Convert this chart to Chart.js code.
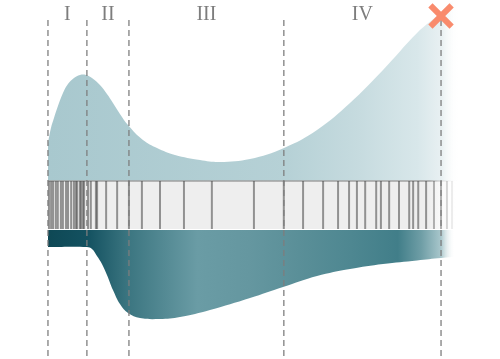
<!DOCTYPE html>
<html>
<head>
<meta charset="utf-8">
<script src="https://cdn.jsdelivr.net/npm/chart.js@4/dist/chart.umd.min.js"></script>
<style>
  html, body { margin: 0; padding: 0; background: #fff; }
  #wrap { width: 500px; height: 359px; }
</style>
</head>
<body>
<div id="wrap"><canvas id="chart" width="500" height="359"></canvas></div>
<script>
// phase boundaries (time units) and phase labels
const boundaries = [0, 9.9, 20.6, 60, 100];
const phaseLabels = ["I", "II", "III", "IV"];

// hazard curve above the strip
const hazardT = [0, 0.76, 1.53, 2.54, 3.82, 5.09, 6.62, 8.14, 9.67, 11.2, 13.23, 15.01, 16.54, 18.32, 20.36, 24.17, 27.74, 32.32, 38.68, 43.77, 51.4, 60.05, 68.45, 76.84, 85.24, 93.89, 100, 104.83];
const hazardV = [31, 38.5, 43.5, 49.5, 56, 60.5, 63.5, 65, 65, 63.5, 60, 55.5, 51, 45.5, 40, 32.5, 28.5, 25, 22.5, 21.5, 23, 28.5, 37.5, 51, 67.5, 86, 96.5, 106.5];

// curve below the strip
const lowerT = [0, 9.92, 11.2, 12.47, 13.74, 15.01, 16.54, 18.32, 20.36, 23.41, 28.5, 33.59, 41.22, 51.4, 59.8, 68.45, 76.84, 85.24, 93.89, 100, 104.83];
const lowerV = [-21, -21, -22, -25.5, -29.5, -35, -42.5, -49.5, -54, -56.5, -57, -56, -52.5, -46.5, -41, -35.5, -32, -29.5, -27.7, -26.5, -25.8];

// failure times (rug)
const failures = [0.25, 0.8, 1.3, 2.0, 2.5, 3.3, 3.8, 4.6, 5.1, 5.9, 6.6, 7.1, 7.4, 8.1, 8.4, 8.9, 9.2, 10.2, 10.9, 12.2, 12.5, 14.8, 17.6, 20.6, 23.9, 28.5, 34.6, 41.7, 52.4, 60, 64.9, 70, 73.8, 76.6, 78.6, 80.7, 83.5, 84.7, 86.8, 89.3, 91.9, 92.9, 94.2, 96.2, 98.2, 100, 101.5, 102.8];

// strip limits, end of the data window, marked point
const stripTop = 12;
const stripBottom = -12;
const stripEnd = 106;
const lineTop = 92.5;
const lineBottom = -77;
const marker = { x: 100, y: 94.5 };
const labelY = 95;

const hGrad = (chart, stops) => {
  const { ctx, chartArea, scales } = chart;
  if (!chartArea) return stops[0][1];
  const px = (t) => scales.x.getPixelForValue(t);
  const x0 = px(stops[0][0]);
  const x1 = px(stops[stops.length - 1][0]);
  const g = ctx.createLinearGradient(x0, 0, x1, 0);
  stops.forEach(([t, c]) => g.addColorStop((px(t) - x0) / (x1 - x0), c));
  return g;
};

const topStops = [
  [0, "rgb(168,200,206)"], [61, "rgb(182,209,214)"], [79, "rgb(198,219,223)"],
  [94, "rgb(216,231,234)"], [100, "rgb(232,240,242)"], [104.5, "rgba(255,255,255,0)"],
];
const lowStops = [
  [0, "#0e4855"], [10, "#135160"], [20.6, "#3c7681"], [38, "#6a9ca5"],
  [51, "#6597a0"], [64, "#5a8f98"], [77, "#4e8791"], [89, "#417e89"],
  [95, "#6f9ea6"], [100, "#a9c7cc"], [103.5, "rgba(255,255,255,0)"],
];
const stripStops = [[0, "#eeeeee"], [97, "#eeeeee"], [104, "rgba(255,255,255,0)"]];
const stripLineStops = [[0, "#a0a0a0"], [97, "#a0a0a0"], [104, "rgba(255,255,255,0)"]];

const rugAlpha = (t) => (t < 98 ? 0.55 : t < 100.5 ? 0.4 : t < 102 ? 0.22 : 0.1);

const phaseText = {
  id: "phaseText",
  afterDatasetsDraw(chart) {
    const { ctx, scales } = chart;
    ctx.save();
    ctx.font = '20px "Liberation Serif"';
    ctx.fillStyle = "#7d7d7d";
    ctx.textAlign = "center";
    ctx.textBaseline = "middle";
    phaseLabels.forEach((lab, i) => {
      const mid = (boundaries[i] + boundaries[i + 1]) / 2;
      ctx.fillText(lab, scales.x.getPixelForValue(mid), scales.y.getPixelForValue(labelY));
    });
    ctx.restore();
  },
};

const datasets = [
  {
    // hazard area
    data: hazardT.map((t, i) => ({ x: t, y: hazardV[i] })),
    fill: { value: stripTop },
    backgroundColor: (c) => hGrad(c.chart, topStops),
    borderWidth: 0,
    pointRadius: 0,
    tension: 0.4,
    order: 6,
  },
  {
    // strip background
    data: [{ x: 0, y: stripTop }, { x: stripEnd, y: stripTop }],
    fill: { value: stripBottom },
    backgroundColor: (c) => hGrad(c.chart, stripStops),
    borderColor: (c) => hGrad(c.chart, stripLineStops),
    borderWidth: 1.5,
    pointRadius: 0,
    order: 5,
  },
  {
    // rug of failure times
    data: failures.map((t) => ({ x: t, y: (stripTop + stripBottom) / 2 })),
    showLine: false,
    pointStyle: "line",
    rotation: 90,
    pointRadius: 24,
    pointBorderWidth: 2,
    pointBorderColor: (c) => `rgba(70,70,70,${c.raw ? rugAlpha(c.raw.x) : 0.55})`,
    order: 4,
  },
  {
    // lower area
    data: lowerT.map((t, i) => ({ x: t, y: lowerV[i] })),
    fill: { value: stripBottom - 0.5 },
    backgroundColor: (c) => hGrad(c.chart, lowStops),
    borderWidth: 0,
    pointRadius: 0,
    tension: 0.4,
    order: 3,
  },
  ...boundaries.map((b) => ({
    data: [{ x: b, y: lineTop }, { x: b, y: lineBottom }],
    borderColor: "rgba(125,125,125,0.8)",
    borderWidth: 1.6,
    borderDash: [6, 4],
    pointRadius: 0,
    fill: false,
    order: 2,
  })),
  {
    data: [marker],
    showLine: false,
    pointStyle: "crossRot",
    pointRadius: 15,
    pointBorderWidth: 6,
    pointBorderColor: "#f98b6d",
    order: 1,
  },
];

new Chart(document.getElementById("chart"), {
  type: "line",
  data: { datasets },
  options: {
    responsive: false,
    animation: false,
    events: [],
    layout: { padding: 0, autoPadding: false },
    plugins: { legend: { display: false }, tooltip: { enabled: false } },
    scales: {
      x: { type: "linear", min: -12.2, max: 115, display: false },
      y: { type: "linear", min: -77, max: 102.5, display: false },
    },
  },
  plugins: [phaseText],
});
</script>
</body>
</html>
